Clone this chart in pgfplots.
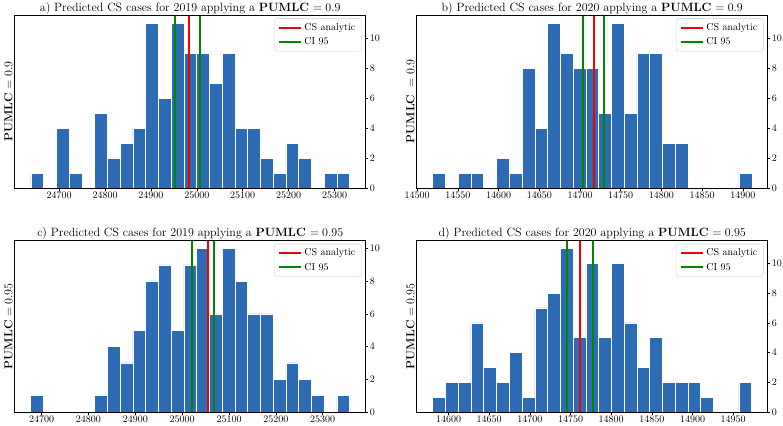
\documentclass[border=0pt]{standalone}
\usepackage{pgfplots}
\pgfplotsset{compat=1.18}
\definecolor{barblue}{RGB}{46,107,181}
\definecolor{cired}{RGB}{245,0,0}
\definecolor{cigreen}{RGB}{0,135,0}
\pgfplotsset{
 histax/.style={
  scale only axis, width=351pt,
  axis line style={black, line width=0.6pt},
  axis on top,
  ymin=0,
  ytick={0,2,4,6,8,10},
  yticklabel pos=right, ytick pos=right,
  xtick pos=left,
  tick align=outside,
  major tick length=2.5pt,
  tick style={black, line width=0.6pt},
  ticklabel style={font=\fontsize{9.8}{11}\selectfont, inner sep=1.5pt},
  scaled x ticks=false,
  x tick label style={/pgf/number format/.cd, fixed, precision=0, 1000 sep={}},
  every axis title/.style={at={(0.5,1)}, anchor=base, yshift=3.5pt, font=\fontsize{12}{14}\selectfont},
  every axis y label/.style={at={(axis description cs:-0.006,0.5)}, rotate=90, anchor=south, inner sep=0pt, font=\fontsize{11.6}{14}\selectfont},
  legend style={at={(0.988,0.98)}, anchor=north east, font=\fontsize{10}{12}\selectfont,
    draw=black!18, rounded corners=2pt, fill=white, fill opacity=0.8, text opacity=1,
    inner xsep=4pt, inner ysep=3pt, row sep=1.5pt,
    /tikz/every even column/.append style={column sep=5pt}},
  legend cell align=left,
  legend image code/.code={\draw[#1] (0pt,0pt) -- (22pt,0pt);},
 },
 vline/.style={line width=2pt},
 bars/.style={ybar interval, fill=barblue, draw=white, line width=0.5pt, forget plot},
}
\begin{document}
\begin{tikzpicture}
\useasboundingbox (0pt,0pt) rectangle (783pt,-425pt);
% a
\begin{axis}[histax, at={(14.7pt,-188pt)}, anchor=south west, height=173pt,
  xmin=24603, xmax=25368, ymax=11.55, xtick={24700,24800,...,25300},
  title={a) Predicted CS cases for 2019 applying a \textbf{PUMLC} $= 0.9$},
  ylabel={\textbf{PUMLC} $= 0.9$}]
\addplot[bars] coordinates {(24638.0,1) (24665.8,0) (24693.6,4) (24721.4,1) (24749.2,0) (24777.0,5) (24804.8,2) (24832.6,3) (24860.4,4) (24888.2,11) (24916.0,6) (24943.8,11) (24971.6,9) (24999.4,9) (25027.2,7) (25055.0,9) (25082.8,4) (25110.6,4) (25138.4,2) (25166.2,1) (25194.0,3) (25221.8,2) (25249.6,0) (25277.4,1) (25305.2,1) (25333.0,0)};
\addplot[cired, vline] coordinates {(24983.5,0) (24983.5,11.55)};
\addlegendentry{CS analytic}
\addplot[cigreen, vline] coordinates {(24953,0) (24953,11.55)};
\addlegendentry{CI 95}
\addplot[cigreen, vline, forget plot] coordinates {(25006,0) (25006,11.55)};
\end{axis}
% b
\begin{axis}[histax, at={(416.7pt,-188pt)}, anchor=south west, height=173pt,
  xmin=14499.4, xmax=14930.6, ymax=11.55, xtick={14500,14550,...,14900},
  title={b) Predicted CS cases for 2020 applying a \textbf{PUMLC} $= 0.9$},
  ylabel={\textbf{PUMLC}\ \ $= 0.9$}]
\addplot[bars] coordinates {(14519.00,1) (14534.68,0) (14550.36,1) (14566.04,1) (14581.72,0) (14597.40,2) (14613.08,1) (14628.76,8) (14644.44,4) (14660.12,11) (14675.80,9) (14691.48,8) (14707.16,8) (14722.84,5) (14738.52,11) (14754.20,5) (14769.88,9) (14785.56,9) (14801.24,3) (14816.92,3) (14832.60,0) (14848.28,0) (14863.96,0) (14879.64,0) (14895.32,1) (14911.00,0)};
\addplot[cired, vline] coordinates {(14717.8,0) (14717.8,11.55)};
\addlegendentry{CS analytic}
\addplot[cigreen, vline] coordinates {(14703.5,0) (14703.5,11.55)};
\addlegendentry{CI 95}
\addplot[cigreen, vline, forget plot] coordinates {(14729.3,0) (14729.3,11.55)};
\end{axis}
% c
\begin{axis}[histax, at={(14.7pt,-412pt)}, anchor=south west, height=171.7pt,
  xmin=24642.5, xmax=25391.7, ymax=10.5, xtick={24700,24800,...,25300},
  title={c) Predicted CS cases for 2019 applying a \textbf{PUMLC} $= 0.95$},
  ylabel={\textbf{PUMLC} $= 0.95$}]
\addplot[bars] coordinates {(24676.60,1) (24703.84,0) (24731.08,0) (24758.32,0) (24785.56,0) (24812.80,1) (24840.04,4) (24867.28,3) (24894.52,5) (24921.76,8) (24949.00,9) (24976.24,5) (25003.48,9) (25030.72,10) (25057.96,6) (25085.20,10) (25112.44,8) (25139.68,6) (25166.92,6) (25194.16,2) (25221.40,3) (25248.64,2) (25275.88,1) (25303.12,0) (25330.36,1) (25357.60,0)};
\addplot[cired, vline] coordinates {(25054.5,0) (25054.5,10.5)};
\addlegendentry{CS analytic}
\addplot[cigreen, vline] coordinates {(25022,0) (25022,10.5)};
\addlegendentry{CI 95}
\addplot[cigreen, vline, forget plot] coordinates {(25067,0) (25067,10.5)};
\end{axis}
% d
\begin{axis}[histax, at={(416.7pt,-412pt)}, anchor=south west, height=171.7pt,
  xmin=14560.9, xmax=14992.4, ymax=11.55, xtick={14600,14650,...,14950},
  title={d) Predicted CS cases for 2020 applying a \textbf{PUMLC} $= 0.95$},
  ylabel={\textbf{PUMLC} $= 0.95$}]
\addplot[bars] coordinates {(14580.50,1) (14596.19,2) (14611.88,2) (14627.57,6) (14643.26,3) (14658.95,2) (14674.64,4) (14690.33,1) (14706.02,7) (14721.71,8) (14737.40,11) (14753.09,5) (14768.78,10) (14784.47,5) (14800.16,10) (14815.85,6) (14831.54,3) (14847.23,5) (14862.92,2) (14878.61,2) (14894.30,2) (14909.99,1) (14925.68,0) (14941.37,0) (14957.06,2) (14972.75,0)};
\addplot[cired, vline] coordinates {(14762,0) (14762,11.55)};
\addlegendentry{CS analytic}
\addplot[cigreen, vline] coordinates {(14745.7,0) (14745.7,11.55)};
\addlegendentry{CI 95}
\addplot[cigreen, vline, forget plot] coordinates {(14777.4,0) (14777.4,11.55)};
\end{axis}
\end{tikzpicture}
\end{document}
